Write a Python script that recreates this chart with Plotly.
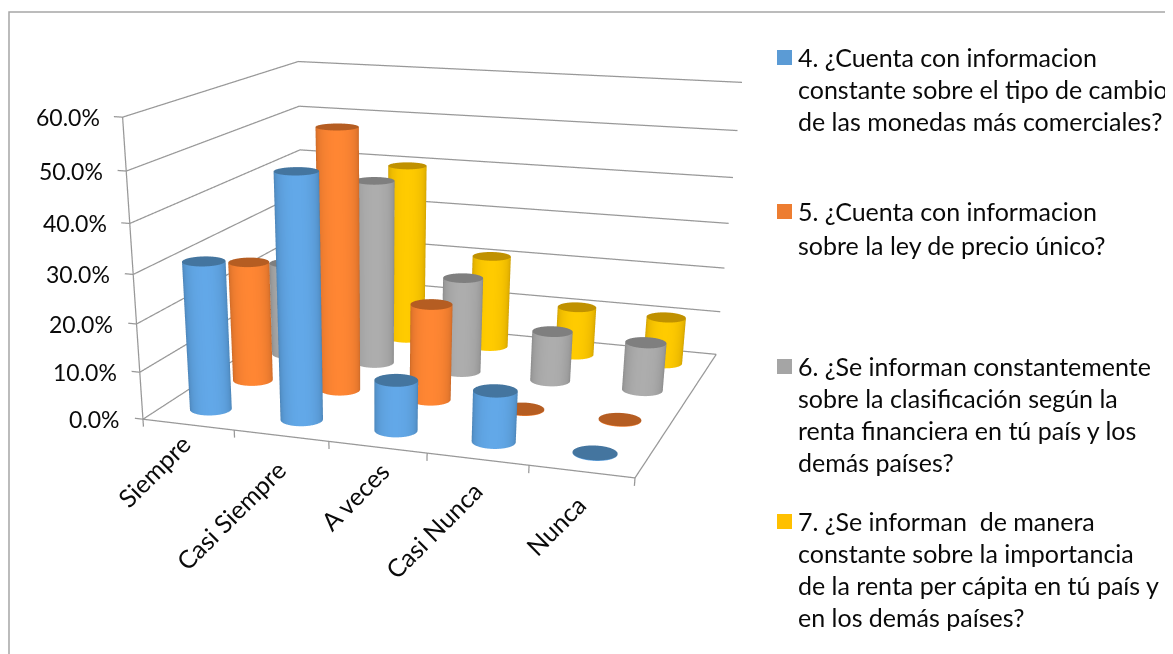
import numpy as np
import plotly.graph_objects as go

categories = ["Siempre", "Casi Siempre", "A veces", "Casi Nunca", "Nunca"]
s4 = [31, 50, 10.5, 10.5, 0]
s5 = [26, 55, 20.5, 0, 0]
s6 = [21, 40.5, 21, 11, 10.5]
s7 = [21, 40, 21, 11, 10.5]
series_values = [s4, s5, s6, s7]
tick_vals = [0, 10, 20, 30, 40, 50, 60]
legend_lines = [
    ["4. ¿Cuenta con informacion", "constante sobre el tipo de cambio", "de las monedas más comerciales?"],
    ["5. ¿Cuenta con informacion", "sobre la ley de precio único?"],
    ["6. ¿Se informan constantemente", "sobre la clasificación según la", "renta financiera en tú país y los", "demás países?"],
    ["7. ¿Se informan  de manera", "constante sobre la importancia", "de la renta per cápita en tú país y", "en los demás países?"],
]
legend_colors = ["#5B9BD5", "#ED7D31", "#A5A5A5", "#FFC000"]
side_center = ["#62A8E8", "#FF8633", "#ADADAD", "#FFCB00"]
side_edge = ["#3F709C", "#B05A22", "#787878", "#B88A00"]
top_color = ["#44759F", "#B55D22", "#7F7F7F", "#C09100"]

W, H = 1165, 1400     # long-lens camera: the figure runs past the bottom of the window
FONT = "Lato"
GRAY = "#989898"
TEXT = "#0A0A0A"

# Geometry of the 3-D box
xlo, xhi = -0.12, 5.06
ylo, yhi = -0.04, 4.04
zlo, zhi = -1.8, 60.6
base_a = np.array([1.0, 0.8534, 0.5778])
base_R = np.array([5.0, 4.0, 60.0])
lo = np.array([xlo, ylo, zlo]); hi = np.array([xhi, yhi, zhi])
aspect = base_a * (hi - lo) / base_R
delta = base_a * (-lo / base_R) - aspect / 2 + base_a / 2
eye = np.array([1.0545, -3.3373, 0.7781]) + delta
center = np.array([0.1481, -0.8308, -0.6266]) + delta
px = 370.3985
R_SCENE = 0.0425

label_xshift = [10, 13, 20, 13, 13]
label_yshift = [-1, -16, -6, -14, -15]

def hex2rgb(h):
    return np.array([int(h[i:i+2], 16) for i in (1, 3, 5)], float)

def to_css(c):
    return "rgb(%d,%d,%d)" % tuple(np.clip(c, 0, 255).round())

def cylinder(cx, cy, h, si, n=48):
    rx = R_SCENE * 5.0
    ry = R_SCENE * 4.0 / base_a[1]
    t = np.linspace(0, 2 * np.pi, n, endpoint=False)
    xs = cx + rx * np.cos(t); ys = cy + ry * np.sin(t)
    vh = (eye - delta)[:2] - (base_a[:2] * (np.array([cx, cy]) / base_R[:2] - 0.5))
    vh = vh / np.linalg.norm(vh)
    shade = np.clip(np.cos(t) * vh[0] + np.sin(t) * vh[1], 0, 1) ** 0.55
    ce, cc = hex2rgb(side_edge[si]), hex2rgb(side_center[si])
    side = [to_css(ce + (cc - ce) * s) for s in shade]
    tc = to_css(hex2rgb(top_color[si]))
    h = max(h, 0.12)
    x = np.r_[xs, xs, xs, cx]
    y = np.r_[ys, ys, ys, cy]
    z = np.r_[np.zeros(n), np.full(n, h), np.full(n, h), h]
    col = side + side + [tc] * (n + 1)
    I, J, K = [], [], []
    for a in range(n):
        b = (a + 1) % n
        I += [a, a]; J += [b, n + b]; K += [n + b, n + a]
        I.append(2 * n + a); J.append(2 * n + b); K.append(3 * n)
    return x, y, z, col, I, J, K

fig = go.Figure()

# wall grid, floor edges, axis ticks
gx, gy, gz = [], [], []
def seg(a, b):
    gx.extend([a[0], b[0], None]); gy.extend([a[1], b[1], None]); gz.extend([a[2], b[2], None])
for z in tick_vals:
    seg((0, 0, z), (0, 4, z)); seg((0, 4, z), (5, 4, z)); seg((0, 0, z), (-0.09, 0, z))
seg((0, 0, 0), (0, 0, 60)); seg((0, 0, 0), (5, 0, 0)); seg((5, 0, 0), (5, 4, 0))
for i in range(6):
    seg((i, 0, 0), (i, 0, -1.6))
fig.add_trace(go.Scatter3d(x=gx, y=gy, z=gz, mode="lines", line=dict(color=GRAY, width=2.5),
                           hoverinfo="skip", showlegend=False))

for si, vals in enumerate(series_values):
    X, Y, Z, C, I, J, K = [], [], [], [], [], [], []
    off = 0
    for ci, v in enumerate(vals):
        x, y, z, col, i, j, k = cylinder(ci + 0.5, si + 0.5, v, si)
        X.append(x); Y.append(y); Z.append(z); C += col
        I += [q + off for q in i]; J += [q + off for q in j]; K += [q + off for q in k]
        off += len(x)
    fig.add_trace(go.Mesh3d(x=np.concatenate(X), y=np.concatenate(Y), z=np.concatenate(Z),
                            i=I, j=J, k=K, vertexcolor=C, flatshading=False,
                            lighting=dict(ambient=1, diffuse=0, specular=0, fresnel=0, roughness=1),
                            hoverinfo="skip", showlegend=False))

scene_ann = []
for z in tick_vals:
    scene_ann.append(dict(x=0, y=0, z=z, text="%.1f%%" % z, showarrow=False, xanchor="right",
                          xshift=-21, font=dict(family=FONT, size=23, color=TEXT)))
for ci, c in enumerate(categories):
    scene_ann.append(dict(x=ci + 0.5, y=0, z=0, text=c, showarrow=False, textangle=-45,
                          xanchor="right", yanchor="top", xshift=label_xshift[ci], yshift=label_yshift[ci],
                          font=dict(family=FONT, size=25, color=TEXT)))

def fx(p): return (p - 8) / W
def fy(p): return 1 - (p - 8) / H

shapes = [dict(type="path", xref="paper", yref="paper",
               path="M %f %f L %f %f L %f %f" % (fx(9), fy(700), fx(9), fy(12), fx(1175), fy(12)),
               line=dict(color="#A6A6A6", width=1.5))]
ann = []
line_y = [[57, 89, 121], [211, 245], [366, 398, 430, 462], [521, 553, 585, 617]]
sq_y = [50, 204, 359, 514]
for si, lines in enumerate(legend_lines):
    shapes.append(dict(type="rect", xref="paper", yref="paper", x0=fx(777), x1=fx(792),
                       y0=fy(sq_y[si]), y1=fy(sq_y[si] + 15), fillcolor=legend_colors[si], line=dict(width=0)))
    for li, t in enumerate(lines):
        ann.append(dict(x=fx(796), y=fy(line_y[si][li]), xref="paper", yref="paper", xanchor="left",
                        yanchor="middle", text=t, showarrow=False,
                        font=dict(family=FONT, size=25, color=TEXT)))

off_ax = dict(showgrid=False, showline=False, zeroline=False, showticklabels=False, showbackground=False,
              showspikes=False, title="", ticks="")
dom = [0, 2 * px / W]
fig.update_layout(
    width=W, height=H, margin=dict(l=0, r=0, t=0, b=0), paper_bgcolor="white", font=dict(family=FONT),
    scene=dict(domain=dict(x=dom, y=[0, 1]), aspectmode="manual",
               aspectratio=dict(x=aspect[0], y=aspect[1], z=aspect[2]),
               camera=dict(eye=dict(x=eye[0], y=eye[1], z=eye[2]),
                           center=dict(x=center[0], y=center[1], z=center[2]),
                           up=dict(x=0, y=0, z=1)),
               xaxis=dict(range=[xlo, xhi], **off_ax), yaxis=dict(range=[ylo, yhi], **off_ax),
               zaxis=dict(range=[zlo, zhi], **off_ax), annotations=scene_ann),
    annotations=ann, shapes=shapes)
fig.write_html("out.html")
